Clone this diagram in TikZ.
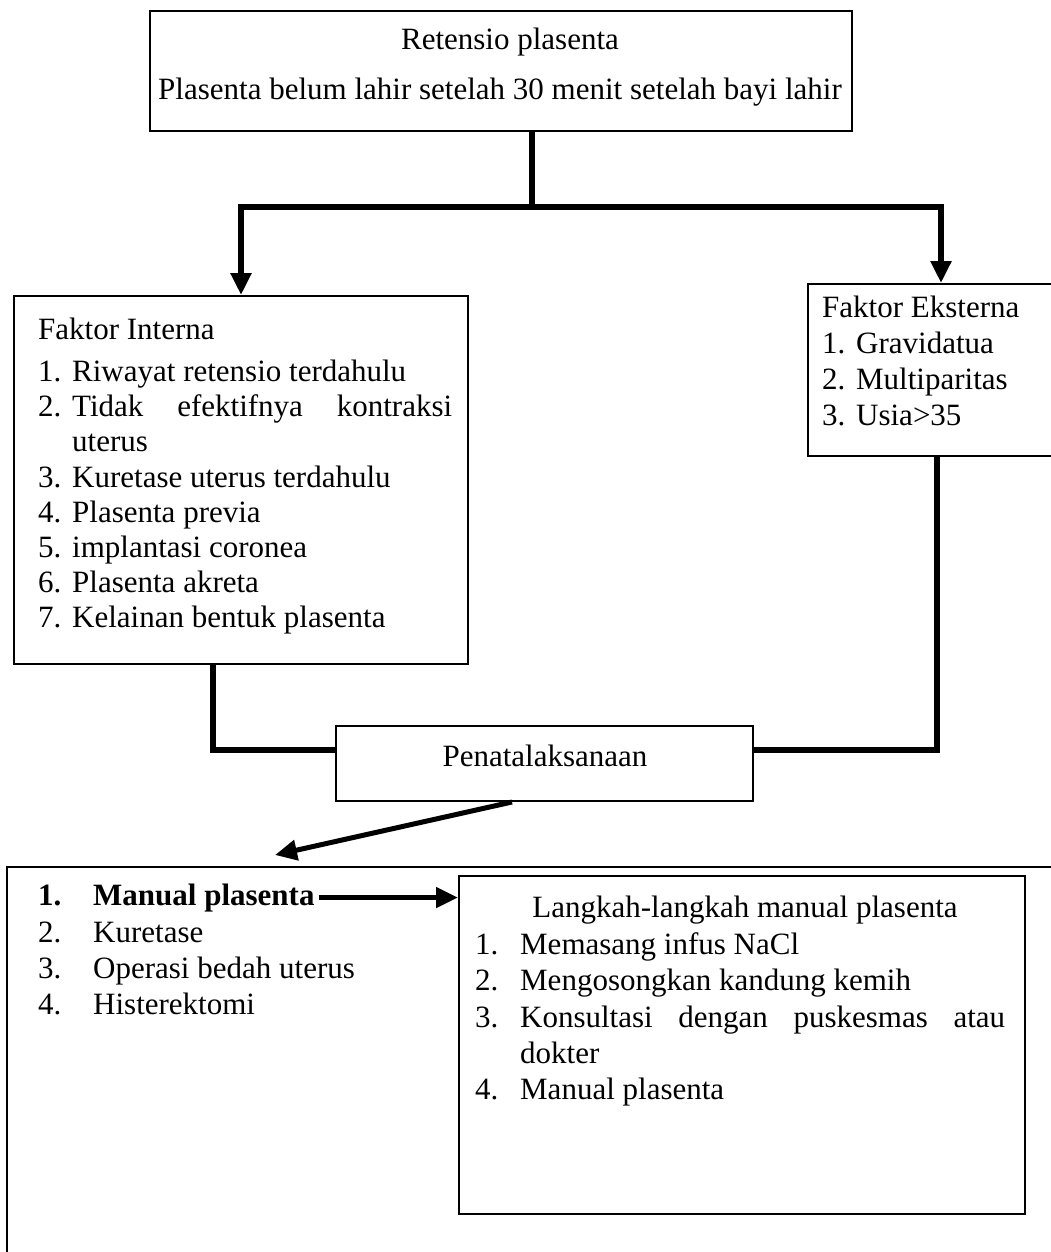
\documentclass[tikz,border=0pt]{standalone}
\usepackage{fontspec}
\setmainfont{Liberation Serif}
\usetikzlibrary{arrows.meta,positioning}

\begin{document}
\begin{tikzpicture}[x=1pt,y=-1pt,
    kotak/.style={draw,line width=2pt,anchor=north west,inner sep=0pt},
    teks/.style={anchor=base west,inner sep=0pt,font=\fontsize{31}{36}\selectfont},
    tengah/.style={teks,anchor=base},
    garis/.style={line width=6pt},
    panah/.style={line width=6pt,-{Triangle[length=22pt,width=20pt]}},
    panahkecil/.style={line width=5pt,-{Triangle[length=22pt,width=20pt]}}]
  \useasboundingbox (0,0) rectangle (1051,1252);
  % kotak
  \node[kotak,minimum width=702pt,minimum height=120pt] (retensio) at (149,10) {};
  \node[kotak,minimum width=454pt,minimum height=368pt] (interna) at (13,295) {};
  \node[kotak,minimum width=266pt,minimum height=172pt] (eksterna) at (807,283) {};
  \node[kotak,minimum width=417pt,minimum height=75pt] (penata) at (335,725) {};
  \node[kotak,minimum width=1100pt,minimum height=450pt] (tindakan) at (6,866) {};
  \node[kotak,minimum width=566pt,minimum height=338pt] (langkah) at (458,875) {};
  % judul
  \node[tengah] (judul) at (510,50) {Retensio plasenta};
  \node[tengah] (definisi) at (500,100) {Plasenta belum lahir setelah 30 menit setelah bayi lahir};
  % faktor interna
  \node[teks] (fi) at (38,339) {Faktor Interna};
  \node[teks] (fi1) at (38,381) {\makebox[34pt][l]{1.}Riwayat retensio terdahulu};
  \node[teks] (fi2) at (38,416) {\makebox[34pt][l]{2.}\makebox[380pt][s]{Tidak efektifnya kontraksi}};
  \node[teks] (fi2b) at (72,451) {uterus};
  \node[teks] (fi3) at (38,487) {\makebox[34pt][l]{3.}Kuretase uterus terdahulu};
  \node[teks] (fi4) at (38,522) {\makebox[34pt][l]{4.}Plasenta previa};
  \node[teks] (fi5) at (38,557) {\makebox[34pt][l]{5.}implantasi coronea};
  \node[teks] (fi6) at (38,592) {\makebox[34pt][l]{6.}Plasenta akreta};
  \node[teks] (fi7) at (38,627) {\makebox[34pt][l]{7.}Kelainan bentuk plasenta};
  % faktor eksterna
  \node[teks] (fe) at (822,317) {Faktor Eksterna};
  \node[teks] (fe1) at (822,353) {\makebox[34pt][l]{1.}Gravidatua};
  \node[teks] (fe2) at (822,389) {\makebox[34pt][l]{2.}Multiparitas};
  \node[teks] (fe3) at (822,425) {\makebox[34pt][l]{3.}Usia>35};
  \node[tengah] (penatateks) at (545,766) {Penatalaksanaan};
  % tindakan
  \node[teks] (t1no) at (38,905) {\textbf{1.}};
  \node[teks] (t1) at (93,905) {\textbf{Manual plasenta}};
  \node[teks] (t2) at (38,942) {\makebox[55pt][l]{2.}Kuretase};
  \node[teks] (t3) at (38,978) {\makebox[55pt][l]{3.}Operasi bedah uterus};
  \node[teks] (t4) at (38,1014) {\makebox[55pt][l]{4.}Histerektomi};
  % langkah manual plasenta
  \node[tengah] (lk) at (745,917) {Langkah-langkah manual plasenta};
  \node[teks] (lk1) at (475,954) {\makebox[45pt][l]{1.}Memasang infus NaCl};
  \node[teks] (lk2) at (475,990) {\makebox[45pt][l]{2.}Mengosongkan kandung kemih};
  \node[teks] (lk3) at (475,1027) {\makebox[45pt][l]{3.}\makebox[485pt][s]{Konsultasi dengan puskesmas atau}};
  \node[teks] (lk3b) at (520,1063) {dokter};
  \node[teks] (lk4) at (475,1099) {\makebox[45pt][l]{4.}Manual plasenta};
  % garis
  \coordinate (cabang) at (532,207);
  \draw[garis] (retensio.south -| cabang) -- (cabang);
  \draw[panah] (cabang) -| (interna.north);
  \draw[panah] (cabang) -| (eksterna.north);
  \coordinate (sikukiri) at (213,750);
  \coordinate (sikukanan) at (937,750);
  \draw[garis] (interna.south -| sikukiri) -- (sikukiri) -- (sikukiri -| penata.west);
  \draw[garis] (eksterna.south -| sikukanan) -- (sikukanan) -- (sikukanan -| penata.east);
  \coordinate (pangkal) at (512,800);
  \coordinate (ujung) at (275,855);
  \draw[panahkecil] (penata.south -| pangkal) -- (ujung);
  \draw[panahkecil] ([xshift=4pt]t1.east) -- (t1.east -| langkah.west);
\end{tikzpicture}
\end{document}
